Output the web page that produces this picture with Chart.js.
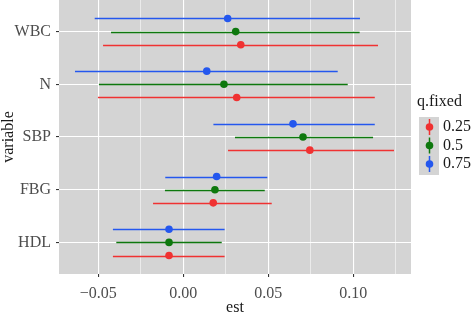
<!DOCTYPE html>
<html>
<head>
<meta charset="utf-8">
<script src="https://cdn.jsdelivr.net/npm/chart.js@4"></script>
<style>
  body { margin: 0; background: #fff; }
  #wrap { width: 472px; height: 315px; }
</style>
</head>
<body>
<div id="wrap"><canvas id="chart" width="472" height="315"></canvas></div>
<script>
// variables, top to bottom
const variables = ["WBC", "N", "SBP", "FBG", "HDL"];
const quantiles = ["0.25", "0.5", "0.75"];
const colors = ["#F03232", "#0E780E", "#2457EE"];

// estimates and interval bounds per quantile, same order as variables
const est25 = [0.0338, 0.0314, 0.0744, 0.0176, -0.0084];
const low25 = [-0.0472, -0.0502, 0.0263, -0.0178, -0.0414];
const up25 = [0.1145, 0.1126, 0.1239, 0.0520, 0.0243];

const est50 = [0.0308, 0.0239, 0.0704, 0.0186, -0.0084];
const low50 = [-0.0425, -0.0496, 0.0304, -0.0108, -0.0394];
const up50 = [0.1037, 0.0967, 0.1116, 0.0479, 0.0226];

const est75 = [0.0261, 0.0138, 0.0645, 0.0196, -0.0084];
const low75 = [-0.0521, -0.0637, 0.0177, -0.0106, -0.0414];
const up75 = [0.1039, 0.0908, 0.1126, 0.0494, 0.0243];

const xTicks = [-0.05, -0.025, 0, 0.025, 0.05, 0.075, 0.1, 0.125];
const xLabels = { "-0.05": "\u22120.05", "0": "0.00", "0.05": "0.05", "0.1": "0.10" };

const series = [
  { est: est25, low: low25, up: up25, shift: 0.25 },
  { est: est50, low: low50, up: up50, shift: 0 },
  { est: est75, low: low75, up: up75, shift: -0.25 }
];

const datasets = series.map(function (s, i) {
  return {
    label: quantiles[i],
    data: s.est.map(function (v, j) { return { x: v, y: j + s.shift, lo: s.low[j], hi: s.up[j] }; }),
    backgroundColor: colors[i],
    borderColor: colors[i],
    pointRadius: 3.8,
    pointBorderWidth: 0,
    pointHoverRadius: 3.8
  };
});

function noPad(scale) {
  scale.paddingTop = 0;
  scale.paddingBottom = 0;
  scale.paddingLeft = 0;
  scale.paddingRight = 0;
}

const panelBg = {
  id: "panelBg",
  beforeDraw(chart) {
    const a = chart.chartArea, c = chart.ctx;
    c.save();
    c.fillStyle = "#D4D4D4";
    c.fillRect(a.left, a.top, a.right - a.left, a.bottom - a.top);
    c.restore();
  }
};

// horizontal interval lines, drawn under the points
const errorBars = {
  id: "errorBars",
  beforeDatasetsDraw(chart) {
    const c = chart.ctx, xs = chart.scales.x, ys = chart.scales.y;
    c.save();
    c.lineWidth = 1.5;
    chart.data.datasets.forEach(function (ds) {
      c.strokeStyle = ds.borderColor;
      ds.data.forEach(function (p) {
        const y = Math.round(ys.getPixelForValue(p.y)) + 0.5;
        c.beginPath();
        c.moveTo(xs.getPixelForValue(p.lo), y);
        c.lineTo(xs.getPixelForValue(p.hi), y);
        c.stroke();
      });
    });
    c.restore();
  }
};

const sideLegend = {
  id: "sideLegend",
  afterDraw(chart) {
    const c = chart.ctx;
    c.save();
    c.font = "16px 'Liberation Serif'";
    c.fillStyle = "#1a1a1a";
    c.textBaseline = "middle";
    c.textAlign = "left";
    c.fillText("q.fixed", 417, 102);
    c.fillStyle = "#D4D4D4";
    c.fillRect(419, 117, 20, 58);
    quantiles.forEach(function (q, i) {
      const cy = 127 + i * 18.5;
      c.strokeStyle = colors[i];
      c.lineWidth = 1.5;
      c.beginPath();
      c.moveTo(429.5, cy - 8);
      c.lineTo(429.5, cy + 8);
      c.stroke();
      c.fillStyle = colors[i];
      c.beginPath();
      c.arc(429.5, cy, 3.8, 0, Math.PI * 2);
      c.fill();
      c.fillStyle = "#1a1a1a";
      c.fillText(q, 443, cy);
    });
    c.restore();
  }
};

new Chart(document.getElementById("chart"), {
  type: "scatter",
  data: { datasets: datasets },
  options: {
    responsive: false,
    animation: false,
    layout: { autoPadding: false, padding: { left: 0, right: 61, top: 0, bottom: 0 } },
    plugins: { legend: { display: false }, tooltip: { enabled: false } },
    scales: {
      x: {
        type: "linear",
        min: -0.0731,
        max: 0.1339,
        afterBuildTicks(scale) { scale.ticks = xTicks.map(function (v) { return { value: v }; }); },
        afterFit(scale) { scale.height = 41; noPad(scale); },
        ticks: {
          autoSkip: false,
          maxRotation: 0,
          padding: 7,
          color: "#4d4d4d",
          font: { family: "'Liberation Serif'", size: 16 },
          callback: function (v) { return xLabels[String(Math.round(v * 1000) / 1000)] || ""; }
        },
        grid: {
          color: "#ffffff",
          lineWidth: function (ctx) { return ctx.index % 2 === 0 ? 1.1 : 0.55; },
          tickColor: function (ctx) { return ctx.index % 2 === 0 ? "#333333" : "rgba(0,0,0,0)"; },
          tickLength: 3
        },
        border: { display: false },
        title: {
          display: true,
          text: "est",
          color: "#1a1a1a",
          font: { family: "'Liberation Serif'", size: 16, lineHeight: 1 },
          padding: { top: 0, bottom: -1 }
        }
      },
      y: {
        type: "linear",
        reverse: true,
        min: -0.6,
        max: 4.6,
        afterBuildTicks(scale) { scale.ticks = variables.map(function (v, i) { return { value: i }; }); },
        afterFit(scale) { scale.width = 59; noPad(scale); },
        ticks: {
          autoSkip: false,
          padding: 5,
          color: "#4d4d4d",
          font: { family: "'Liberation Serif'", size: 16 },
          callback: function (v) { return variables[v]; }
        },
        grid: { color: "#ffffff", lineWidth: 1.1, tickColor: "#333333", tickLength: 3 },
        border: { display: false },
        title: {
          display: true,
          text: "variable",
          color: "#1a1a1a",
          font: { family: "'Liberation Serif'", size: 16, lineHeight: 1 },
          padding: { top: 1, bottom: 0 }
        }
      }
    }
  },
  plugins: [panelBg, errorBars, sideLegend]
});
</script>
</body>
</html>
